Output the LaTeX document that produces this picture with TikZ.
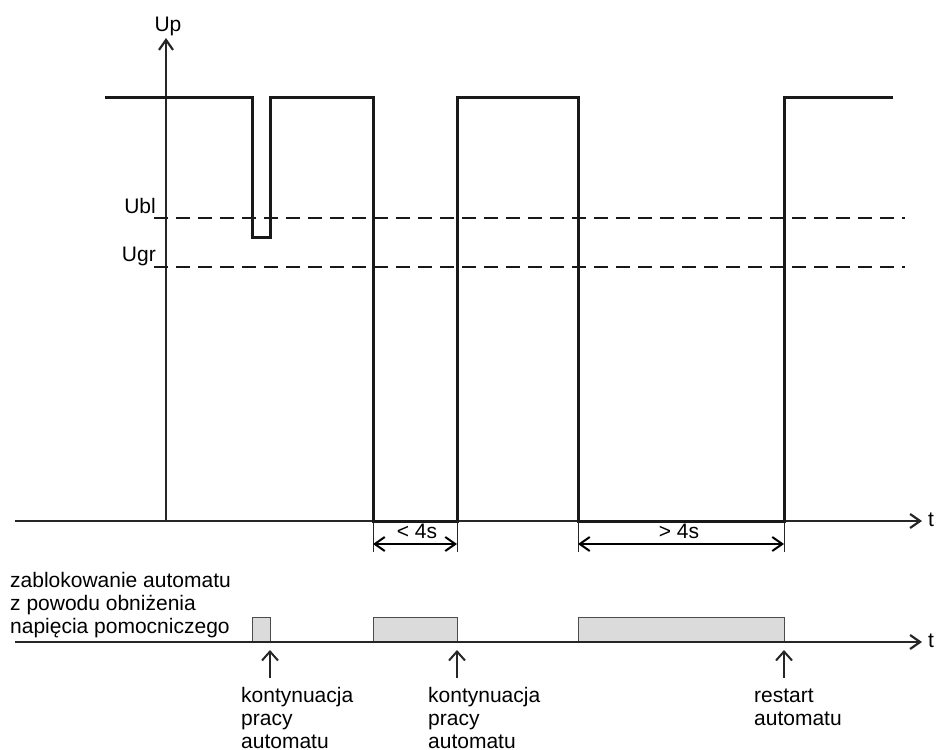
\documentclass[tikz,border=0pt]{standalone}
\usepackage{fontspec}
\setmainfont{Liberation Sans}
\usetikzlibrary{arrows.meta}
\begin{document}
\begin{tikzpicture}[x=1pt,y=-1pt,
  font=\fontsize{21}{23}\selectfont,
  axis/.style={line width=1.4pt, draw=black!85},
  barb/.style={-{Straight Barb[length=10pt,width=14pt,line width=2.2pt]}},
  dimarrow/.style={line width=1.2pt,
    {Straight Barb[length=10pt,width=14pt,line width=2pt]}-{Straight Barb[length=10pt,width=14pt,line width=2pt]}},
  ext/.style={line width=1pt, draw=black!85},
  sig/.style={line width=3pt, line join=miter, draw=black!90},
  thr/.style={line width=2pt, draw=black!90, dash pattern=on 14pt off 8pt},
  lbl/.style={inner sep=0pt, align=left, anchor=base west},
  blk/.style={fill=black!14, draw=black!70, line width=1pt},
  evarrow/.style={line width=1.2pt, draw=black!85, -{Straight Barb[length=9pt,width=16pt,line width=2pt]}}]
\useasboundingbox (0,0) rectangle (936,749);

% main axes
\coordinate (o) at (166,521);
\coordinate (ytop) at (166,38);
\coordinate (x0) at (15,521);
\coordinate (xend) at (922,521);
\draw[axis,barb] (o) -- (ytop);
\draw[axis,barb] (x0) -- (xend);
\node[inner sep=0pt, anchor=base] (up) at (168,32) {Up};
\node[inner sep=0pt, anchor=base west] (t1) at (928,526) {t};

% thresholds
\coordinate (ubl0) at (154,218); \coordinate (ubl1) at (905,218);
\coordinate (ugr0) at (154,267); \coordinate (ugr1) at (905,267);
\draw[thr] (ubl0) -- (ubl1);
\draw[thr] (ugr0) -- (ugr1);
\node[inner sep=0pt, anchor=base east] (ubl) at (156,213) {Ubl};
\node[inner sep=0pt, anchor=base east] (ugr) at (156,261) {Ugr};

% signal
\draw[sig] (105,98) -- (252,98) -- (252,237) -- (270,237) -- (270,98)
  -- (373,98) -- (373,521) -- (457,521) -- (457,98) -- (578,98)
  -- (578,521) -- (784,521) -- (784,98) -- (893,98);

% dimensions
\coordinate (a1) at (373,544); \coordinate (b1) at (457,544);
\coordinate (a2) at (578,544); \coordinate (b2) at (784,544);
\draw[ext] (373,521) -- (373,552);
\draw[ext] (457,521) -- (457,552);
\draw[ext] (578,521) -- (578,552);
\draw[ext] (784,521) -- (784,552);
\draw[dimarrow] (a1) -- (b1);
\draw[dimarrow] (a2) -- (b2);
\node[inner sep=0pt, anchor=base] (lt) at (417,538) {< 4s};
\node[inner sep=0pt, anchor=base] (gt) at (679,538) {> 4s};

% lower time line
\draw[blk] (252,617) rectangle (270,642);
\draw[blk] (373,617) rectangle (457,642);
\draw[blk] (578,617) rectangle (784,642);
\coordinate (y0) at (15,642);
\coordinate (yend) at (922,642);
\draw[axis,barb] (y0) -- (yend);
\node[inner sep=0pt, anchor=base west] (t2) at (928,647) {t};

\node[lbl] (blok) at (10,633) {zablokowanie automatu\\z powodu obniżenia\\napięcia pomocniczego};

% event arrows
\coordinate (e1s) at (270,678); \coordinate (e1t) at (270,650);
\coordinate (e2s) at (457,678); \coordinate (e2t) at (457,650);
\coordinate (e3s) at (784,678); \coordinate (e3t) at (784,650);
\draw[evarrow] (e1s) -- (e1t);
\draw[evarrow] (e2s) -- (e2t);
\draw[evarrow] (e3s) -- (e3t);
\node[lbl] (k1) at (241,748) {kontynuacja\\pracy\\automatu};
\node[lbl] (k2) at (428,748) {kontynuacja\\pracy\\automatu};
\node[lbl] (rs) at (754,725) {restart\\automatu};
\end{tikzpicture}
\end{document}
